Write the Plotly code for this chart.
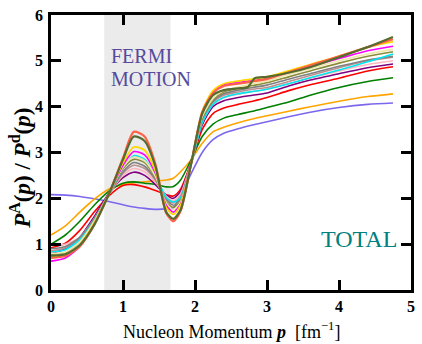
import plotly.graph_objects as go

# Momentum grid (fm^-1)
x_grid = [0, 0.2, 0.4, 0.6, 0.8, 1.0, 1.15, 1.3, 1.45, 1.6, 1.7, 1.8, 1.95, 2.1, 2.25, 2.4, 2.6, 2.8, 3.0, 3.3, 3.6, 4.0, 4.4, 4.75]

blue = [2.08, 2.07, 2.04, 1.99, 1.93, 1.86, 1.81, 1.78, 1.76, 1.77, 1.8, 2.05, 2.55, 3.0, 3.28, 3.42, 3.52, 3.6, 3.67, 3.78, 3.88, 3.98, 4.05, 4.08]
orange = [1.2, 1.4, 1.7, 1.98, 2.2, 2.3, 2.34, 2.36, 2.38, 2.4, 2.44, 2.58, 2.85, 3.2, 3.45, 3.55, 3.65, 3.73, 3.8, 3.9, 4.0, 4.12, 4.22, 4.28]
green = [1.0, 1.2, 1.5, 1.85, 2.15, 2.33, 2.36, 2.33, 2.3, 2.25, 2.26, 2.4, 2.85, 3.35, 3.62, 3.75, 3.83, 3.9, 3.98, 4.1, 4.25, 4.42, 4.55, 4.63]
red = [0.92, 1.02, 1.3, 1.7, 2.05, 2.28, 2.3, 2.25, 2.17, 2.08, 2.05, 2.2, 2.8, 3.5, 3.85, 3.97, 4.05, 4.12, 4.2, 4.35, 4.48, 4.62, 4.78, 4.87]
purple = [0.8, 0.9, 1.15, 1.6, 2.1, 2.45, 2.57, 2.5, 2.3, 2.07, 2.0, 2.15, 2.8, 3.6, 4.0, 4.13, 4.2, 4.25, 4.3, 4.45, 4.58, 4.72, 4.85, 4.93]
pink = [0.98, 1.0, 1.15, 1.55, 2.08, 2.5, 2.65, 2.58, 2.35, 2.05, 1.95, 2.1, 2.8, 3.65, 4.05, 4.2, 4.27, 4.33, 4.38, 4.5, 4.62, 4.78, 4.92, 5.0]
rosy = [0.85, 0.92, 1.15, 1.55, 2.08, 2.55, 2.72, 2.65, 2.4, 2.0, 1.9, 2.05, 2.78, 3.7, 4.1, 4.25, 4.32, 4.38, 4.42, 4.55, 4.68, 4.85, 5.0, 5.08]
gray = [0.9, 0.95, 1.15, 1.55, 2.08, 2.58, 2.78, 2.7, 2.42, 1.98, 1.85, 2.0, 2.78, 3.72, 4.12, 4.28, 4.36, 4.42, 4.47, 4.6, 4.72, 4.88, 5.02, 5.1]
cyan = [0.83, 0.88, 1.1, 1.52, 2.08, 2.65, 2.93, 2.85, 2.5, 2.02, 1.92, 2.02, 2.75, 3.65, 4.05, 4.2, 4.28, 4.33, 4.38, 4.5, 4.63, 4.8, 4.98, 5.15]
olive = [0.78, 0.82, 1.05, 1.5, 2.08, 2.65, 2.85, 2.78, 2.45, 1.92, 1.8, 1.95, 2.78, 3.75, 4.15, 4.32, 4.4, 4.46, 4.52, 4.65, 4.78, 4.95, 5.1, 5.2]
khaki = [0.8, 0.83, 1.05, 1.5, 2.08, 2.68, 2.9, 2.82, 2.48, 1.9, 1.75, 1.92, 2.78, 3.78, 4.18, 4.35, 4.43, 4.5, 4.56, 4.7, 4.83, 5.0, 5.15, 5.25]
magenta = [0.63, 0.7, 0.95, 1.45, 2.08, 2.72, 3.02, 2.95, 2.55, 1.85, 1.7, 1.88, 2.78, 3.85, 4.3, 4.48, 4.53, 4.57, 4.62, 4.75, 4.88, 5.05, 5.22, 5.32]
gold = [0.72, 0.76, 0.98, 1.45, 2.08, 2.78, 3.12, 3.05, 2.6, 1.8, 1.65, 1.85, 2.78, 3.9, 4.35, 4.5, 4.56, 4.6, 4.65, 4.78, 4.92, 5.1, 5.3, 5.42]
tomato = [0.7, 0.74, 0.95, 1.42, 2.08, 2.88, 3.45, 3.35, 2.75, 1.68, 1.5, 1.72, 2.78, 3.88, 4.3, 4.45, 4.5, 4.55, 4.6, 4.75, 4.9, 5.1, 5.3, 5.47]

x_dog = [0, 0.2, 0.4, 0.6, 0.8, 1.0, 1.15, 1.3, 1.45, 1.6, 1.7, 1.8, 1.95, 2.1, 2.25, 2.4, 2.6, 2.73, 2.83, 3.0, 3.3, 3.6, 4.0, 4.4, 4.75]
darkolive = [0.75, 0.78, 0.98, 1.42, 2.08, 2.85, 3.35, 3.25, 2.7, 1.7, 1.55, 1.75, 2.78, 3.85, 4.25, 4.36, 4.4, 4.42, 4.62, 4.65, 4.74, 4.86, 5.08, 5.3, 5.52]

series = [
    (x_grid, blue, "#7b68ee", 1.6),
    (x_grid, orange, "#ffa500", 1.6),
    (x_grid, green, "#008000", 1.6),
    (x_grid, red, "#ff0000", 1.6),
    (x_grid, purple, "#800080", 1.6),
    (x_grid, pink, "#ffb6c1", 1.6),
    (x_grid, rosy, "#bc8f8f", 1.6),
    (x_grid, gray, "#808080", 1.6),
    (x_grid, cyan, "#00e5ee", 1.6),
    (x_grid, olive, "#8b8b3a", 1.6),
    (x_grid, khaki, "#eee8aa", 1.6),
    (x_grid, magenta, "#ff00ff", 1.6),
    (x_grid, gold, "#ffd700", 1.8),
    (x_grid, tomato, "#ff6347", 2.2),
    (x_dog, darkolive, "#556b2f", 2.2),
]

shade_x = [0.74, 1.66]
x_ticks = [0, 1, 2, 3, 4, 5]
y_ticks = [0, 1, 2, 3, 4, 5, 6]

fig = go.Figure()
for xs, ys, col, w in series:
    fig.add_trace(go.Scatter(x=xs, y=ys, mode="lines",
                             line=dict(color=col, width=w, shape="spline", smoothing=0.7),
                             showlegend=False, hoverinfo="skip"))

fig.add_shape(type="rect", xref="x", yref="y", x0=shade_x[0], x1=shade_x[1], y0=0, y1=6,
              fillcolor="#ebebeb", line_width=0, layer="below")

serif = "Liberation Serif, Times New Roman, serif"
axis_common = dict(showgrid=False, zeroline=False, showline=True, linecolor="black", linewidth=2.5,
                   ticks="inside", ticklen=10, tickwidth=2.5, tickcolor="black", mirror="allticks",
                   tickfont=dict(family=serif, size=16, color="black", weight="bold"))

fig.update_xaxes(range=[0, 5], tickvals=x_ticks, ticklabelstandoff=0, **axis_common)
fig.update_yaxes(range=[0, 6], tickvals=y_ticks, ticklabelstandoff=2, **axis_common)

fig.add_annotation(x=0.81, y=5.11, xref="x", yref="y", text="FERMI", showarrow=False,
                   xanchor="left", yanchor="middle", font=dict(family=serif, size=20, color="#554a9e"))
fig.add_annotation(x=0.81, y=4.61, xref="x", yref="y", text="MOTION", showarrow=False,
                   xanchor="left", yanchor="middle", font=dict(family=serif, size=20, color="#554a9e"))
fig.add_annotation(x=4.835, y=1.11, xref="x", yref="y", text="TOTAL", showarrow=False,
                   xanchor="right", yanchor="middle", font=dict(family=serif, size=24, color="#008080"))

fig.add_annotation(x=0.5, y=-0.148, xref="paper", yref="paper", showarrow=False,
                   text="Nucleon Momentum <b><i>p</i></b>  [fm<sup>−1</sup>]",
                   xanchor="center", yanchor="middle", font=dict(family=serif, size=18, color="black"))
fig.add_annotation(x=-0.085, y=0.442, xref="paper", yref="paper", showarrow=False, textangle=-90,
                   text="<b><i>P</i><sup>A</sup>(<i>p</i>) / <i>P</i><sup>d</sup>(<i>p</i>)</b>",
                   xanchor="center", yanchor="middle", font=dict(family=serif, size=23, color="black"))

fig.update_layout(width=422, height=344, margin=dict(l=51, r=7, t=14, b=54),
                  paper_bgcolor="white", plot_bgcolor="white")

fig.write_html("out.html")
